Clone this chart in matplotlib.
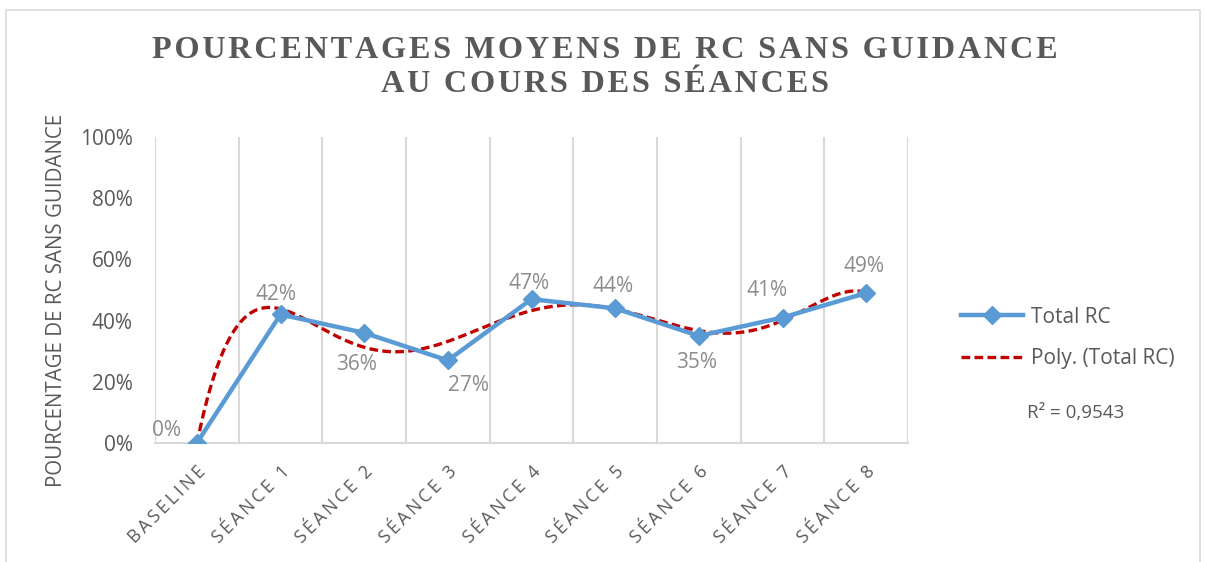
import numpy as np
import matplotlib
matplotlib.use("Agg")
import matplotlib.pyplot as plt
from matplotlib.patches import Rectangle
from matplotlib.lines import Line2D

categories = ["BASELINE", "SÉANCE 1", "SÉANCE 2", "SÉANCE 3", "SÉANCE 4",
              "SÉANCE 5", "SÉANCE 6", "SÉANCE 7", "SÉANCE 8"]
total_rc = [0, 42, 36, 27, 47, 44, 35, 41, 49]
# label offsets in pixels (dx, dy up)
label_offsets = [(-30, 13), (-4, 20), (-8, -32), (21, -25), (-2, 16),
                 (-2, 22), (-2, -27), (-15, 27), (-2, 27)]
yticks = [0, 20, 40, 60, 80, 100]
poly_order = 6
r2_text = "R² = 0,9543"

sans = ["Open Sans", "DejaVu Sans"]
serif = ["Liberation Serif", "DejaVu Serif"]
dark = "#595959"
light = "#8c8c8c"
blue = "#5B9BD5"
red = "#C00000"

def spaced(s, sep="\u200a"):
    return sep.join(s)

fig = plt.figure(figsize=(12.05, 5.62), dpi=100)
fig.patches.append(Rectangle((6 / 1205, -0.1), 1194 / 1205, 1.1 - 10 / 562,
                             transform=fig.transFigure, fill=False,
                             edgecolor="#d9d9d9", lw=1.2))

ax = fig.add_axes([155 / 1205, 1 - 443 / 562, 753 / 1205, 306 / 562])
x = np.arange(len(categories))

# trend line (polynomial fit, like Excel)
coef = np.polyfit(x, total_rc, poly_order)
xs = np.linspace(0, len(categories) - 1, 400)
ax.plot(xs, np.polyval(coef, xs), color=red, lw=2.4, ls=(0, (2.6, 1.3)), zorder=3)
ax.plot(x, total_rc, color=blue, lw=3.2, marker="D", ms=9, zorder=4)

for xi, v, (dx, dy) in zip(x, total_rc, label_offsets):
    ax.annotate(f"{v}%", (xi, v), xytext=(dx, dy), textcoords="offset pixels",
                ha="center", va="center", fontsize=15, color=light, family=sans)

ax.set_xlim(-0.5, len(categories) - 0.5)
ax.set_ylim(0, 100)
ax.set_yticks(yticks)
ax.set_yticklabels([f"{t}%" for t in yticks], fontsize=15, color=dark, family=sans)
ax.set_xticks(x)
ax.set_xticklabels([spaced(c, "\u2009") for c in categories], rotation=45, ha="right",
                   va="top", rotation_mode="anchor", fontsize=12.8, color=dark, family=sans)
ax.set_xticks(np.arange(-0.5, len(categories)), minor=True)
ax.grid(True, which="minor", axis="x", color="#d9d9d9", lw=1.5)
ax.tick_params(which="both", length=0)
ax.tick_params(axis="x", pad=14)
ax.tick_params(axis="y", pad=16)
for s in ["top", "left", "right"]:
    ax.spines[s].set_visible(False)
ax.spines["bottom"].set_color("#d9d9d9")
ax.spines["bottom"].set_linewidth(1.5)

ax.set_ylabel("POURCENTAGE DE RC SANS GUIDANCE", fontsize=14.8, color=dark, family=sans)
ax.yaxis.set_label_coords(-0.117, 0.467)

fig.text(605 / 1205, 1 - 50 / 562, spaced("POURCENTAGES MOYENS DE RC SANS GUIDANCE"),
         ha="center", va="center", fontsize=23.2, fontweight="bold", color=dark, family=serif)
fig.text(605 / 1205, 1 - 85 / 562, spaced("AU COURS DES SÉANCES"),
         ha="center", va="center", fontsize=23.2, fontweight="bold", color=dark, family=serif)

handles = [Line2D([], [], color=blue, lw=3.2, marker="D", ms=9),
           Line2D([], [], color=red, lw=2.4, ls=(0, (2.6, 1.3)))]
fig.legend(handles, ["Total RC", "Poly. (Total RC)"], loc="center left",
           bbox_to_anchor=(942 / 1205, 1 - 338 / 562), frameon=False,
           prop={"family": sans, "size": 15}, labelcolor=dark,
           handlelength=3.0, handletextpad=0.35, labelspacing=1.0)
fig.text(1027 / 1205, 1 - 413 / 562, r2_text, ha="left", va="center",
         fontsize=13.5, color=dark, family=sans)

fig.savefig("out.png", dpi=100)
